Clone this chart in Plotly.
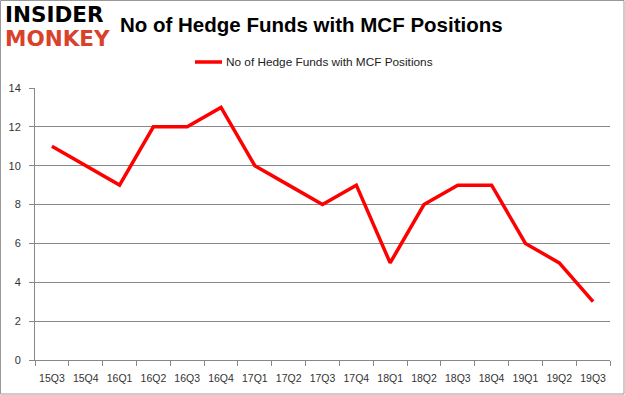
import plotly.graph_objects as go

quarters = ["15Q3","15Q4","16Q1","16Q2","16Q3","16Q4","17Q1","17Q2","17Q3","17Q4",
            "18Q1","18Q2","18Q3","18Q4","19Q1","19Q2","19Q3"]
hedge_funds = [11,10,9,12,12,13,10,9,8,9,5,8,9,9,6,5,3]
series_name = "No of Hedge Funds with MCF Positions"
y_ticks = [0,2,4,6,8,10,12,14]

W, H = 625, 395
L, R, T, B = 35, 15, 88, 35
pw, ph = W - L - R, H - T - B

def px(x):
    return (x - L) / pw

def py(y):
    return 1 - (y - T) / ph

fig = go.Figure()
fig.add_trace(go.Scatter(x=quarters, y=hedge_funds, mode="lines", name=series_name,
                         line=dict(color="#ff0000", width=3.5), showlegend=False))

fig.update_layout(
    width=W, height=H, margin=dict(l=L, r=R, t=T, b=B, autoexpand=False),
    paper_bgcolor="white", plot_bgcolor="white",
    showlegend=False,
    font=dict(family="Liberation Sans, Arial", size=11, color="#333"),
)
fig.update_xaxes(type="category", range=[-0.5, 16.5], showgrid=False, showline=True,
                 linecolor="#888", linewidth=1, ticks="outside", tickson="boundaries",
                 ticklen=5, tickcolor="#888", tickangle=0, automargin=False,
                 ticklabelstandoff=8,
                 tickfont=dict(size=10.5, color="#333"), fixedrange=True)
fig.update_yaxes(range=[0, 14], tickvals=y_ticks, showgrid=True, gridcolor="#888",
                 gridwidth=1, showline=True, linecolor="#888", linewidth=1,
                 ticks="outside", ticklen=5, tickcolor="#888", zeroline=False,
                 ticklabelstandoff=6,
                 automargin=False, tickfont=dict(size=11, color="#333"), fixedrange=True)

# legend (manual)
fig.add_shape(type="line", xref="paper", yref="paper", x0=px(195), x1=px(222),
              y0=py(62), y1=py(62), line=dict(color="#ff0000", width=3.5))
fig.add_annotation(text=series_name, xref="paper", yref="paper", x=px(224), y=py(62),
                   xanchor="left", yanchor="middle", showarrow=False,
                   font=dict(family="Liberation Sans, Arial", size=11.8, color="#222"))

# title
fig.add_annotation(text="<b>No of Hedge Funds with MCF Positions</b>", xref="paper", yref="paper",
                   x=px(311), y=py(25), xanchor="center", yanchor="middle",
                   showarrow=False, font=dict(family="Liberation Sans, Arial", size=20.5, color="black"))
# logo
fig.add_annotation(text="<b>INSIDER</b>", xref="paper", yref="paper",
                   x=px(3), y=py(14), xanchor="left", yanchor="middle",
                   showarrow=False, font=dict(family="DejaVu Sans", size=21.5, color="black"))
fig.add_annotation(text="<b>MONKEY</b>", xref="paper", yref="paper",
                   x=px(3), y=py(39), xanchor="left", yanchor="middle",
                   showarrow=False, font=dict(family="DejaVu Sans", size=21.5, color="#d9412b"))
# border
fig.add_shape(type="rect", xref="paper", yref="paper",
              x0=px(0.5), x1=px(W - 1), y0=py(H - 1), y1=py(0.5),
              line=dict(color="#999", width=1), fillcolor="rgba(0,0,0,0)")

fig.write_html("out.html", config={"displayModeBar": False},
               post_script="document.body.style.margin='0';document.body.style.overflow='hidden';")
